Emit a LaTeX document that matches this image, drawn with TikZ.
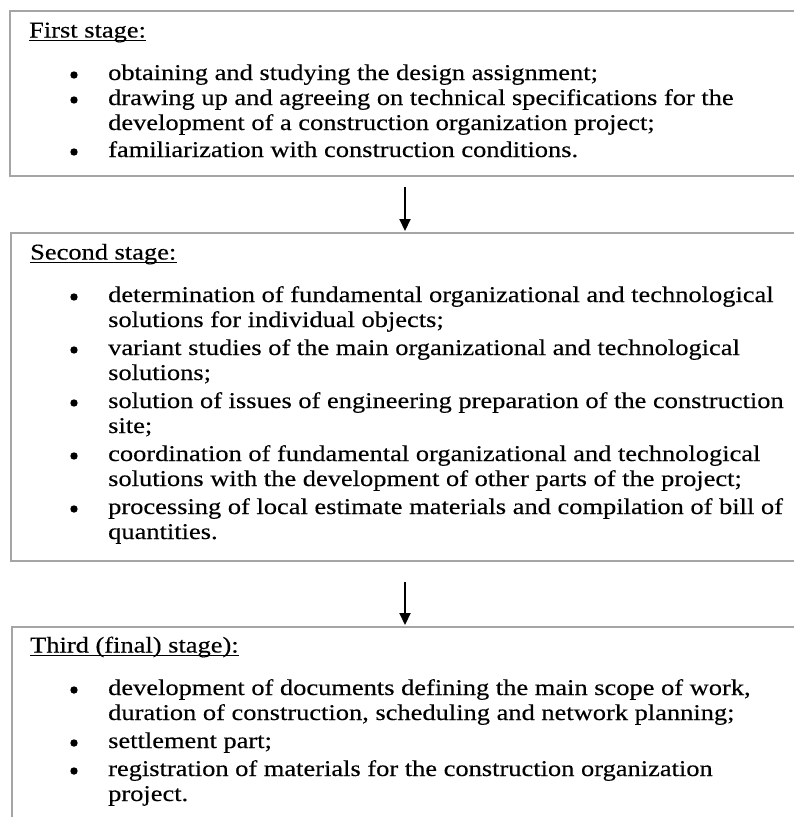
\documentclass[tikz,border=0pt]{standalone}
\usepackage{fontspec}
\setmainfont{Liberation Serif}[FakeStretch=1.175,FakeBold=0.3]
\usetikzlibrary{arrows.meta}
\definecolor{boxgray}{RGB}{165,165,165}
\newcommand{\bodyfont}{\fontsize{22.5}{25}\selectfont}
\tikzset{
  ln/.style={anchor=base west, inner sep=0pt, font=\bodyfont},
  dot/.style={circle, fill=black, inner sep=0pt, minimum size=7.4pt},
  ttl/.style={anchor=base west, inner sep=0pt, font=\bodyfont},
  uline/.style={line width=1.1pt},
  stagebox/.style={draw=boxgray, line width=2.6pt},
  flow/.style={-{Triangle[length=12pt,width=11pt]}, line width=2.1pt}
}
\begin{document}
\begin{tikzpicture}[x=1pt,y=-1pt]
\useasboundingbox (0,0) rectangle (794,817);
\fill[white] (0,0) rectangle (794,817);

% ---------- Box 1 ----------
\draw[stagebox] (796,11) -- (10,11) -- (10,176) -- (796,176);
\node[ttl] (t1) at (29,37.5) {First stage:};
\draw[uline] ([yshift=-3pt]t1.base west) -- ([yshift=-3pt]t1.base east);
\node[dot] (b11) at (74,75) {};
\node[ln] (l11) at (108,80) {obtaining and studying the design assignment;};
\node[dot] (b12) at (74,100) {};
\node[ln] (l12) at (108,105) {drawing up and agreeing on technical specifications for the};
\node[ln] (l12b) at (108,130) {development of a construction organization project;};
\node[dot] (b13) at (74,152) {};
\node[ln] (l13) at (108,157) {familiarization with construction conditions.};

% ---------- Box 2 ----------
\draw[stagebox] (796,233) -- (11,233) -- (11,561) -- (796,561);
\node[ttl] (t2) at (30,259.5) {Second stage:};
\draw[uline] ([yshift=-3pt]t2.base west) -- ([yshift=-3pt]t2.base east);
\node[dot] (b21) at (74,297) {};
\node[ln] (l21) at (108,302) {determination of fundamental organizational and technological};
\node[ln] (l21b) at (108,327) {solutions for individual objects;};
\node[dot] (b22) at (74,350) {};
\node[ln] (l22) at (108,355) {variant studies of the main organizational and technological};
\node[ln] (l22b) at (108,380) {solutions;};
\node[dot] (b23) at (74,403) {};
\node[ln] (l23) at (108,408) {solution of issues of engineering preparation of the construction};
\node[ln] (l23b) at (108,433) {site;};
\node[dot] (b24) at (74,456) {};
\node[ln] (l24) at (108,461) {coordination of fundamental organizational and technological};
\node[ln] (l24b) at (108,486) {solutions with the development of other parts of the project;};
\node[dot] (b25) at (74,509) {};
\node[ln] (l25) at (108,514) {processing of local estimate materials and compilation of bill of};
\node[ln] (l25b) at (108,539) {quantities.};

% ---------- Box 3 ----------
\draw[stagebox] (796,627) -- (12,627) -- (12,819);
\node[ttl] (t3) at (30,652.5) {Third (final) stage):};
\draw[uline] ([yshift=-3pt]t3.base west) -- ([yshift=-3pt]t3.base east);
\node[dot] (b31) at (74,690) {};
\node[ln] (l31) at (108,695) {development of documents defining the main scope of work,};
\node[ln] (l31b) at (108,720) {duration of construction, scheduling and network planning;};
\node[dot] (b32) at (74,743) {};
\node[ln] (l32) at (108,748) {settlement part;};
\node[dot] (b33) at (74,771) {};
\node[ln] (l33) at (108,776) {registration of materials for the construction organization};
\node[ln] (l33b) at (108,801) {project.};

% ---------- Arrows ----------
\coordinate (a1s) at (405,187);
\coordinate (a1e) at (405,231);
\coordinate (a2s) at (405,582);
\coordinate (a2e) at (405,625);
\draw[flow] (a1s) -- (a1e);
\draw[flow] (a2s) -- (a2e);
\end{tikzpicture}
\end{document}
